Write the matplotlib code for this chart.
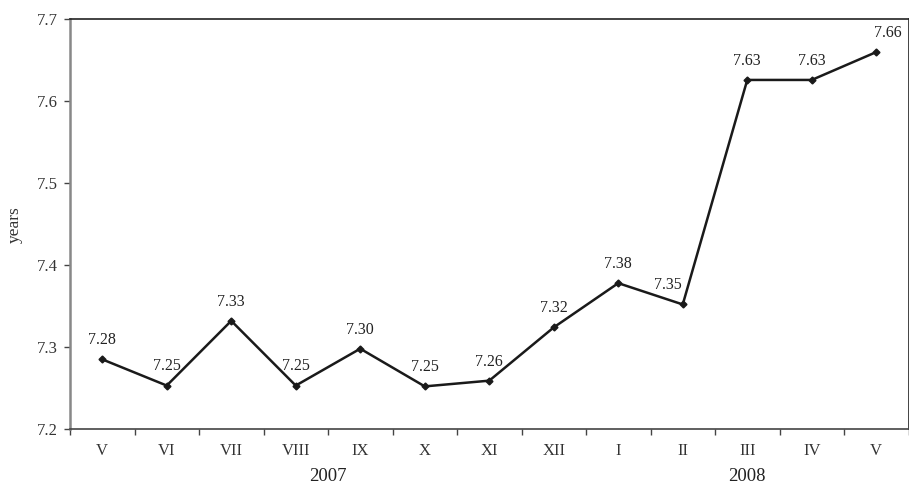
import numpy as np
import matplotlib.pyplot as plt

months = ['V', 'VI', 'VII', 'VIII', 'IX', 'X', 'XI', 'XII', 'I', 'II', 'III', 'IV', 'V']
values = [7.285, 7.253, 7.332, 7.253, 7.298, 7.252, 7.259, 7.324, 7.378, 7.352, 7.626, 7.626, 7.660]
labels = ['7.28', '7.25', '7.33', '7.25', '7.30', '7.25', '7.26', '7.32', '7.38', '7.35', '7.63', '7.63', '7.66']
years = ['2007', '2008']
year_groups = [range(0, 8), range(8, 13)]

plt.rcParams['font.family'] = ['Liberation Serif', 'DejaVu Serif']

fig = plt.figure(figsize=(9.09, 4.83), dpi=100)
ax = fig.add_axes([70 / 909, 54 / 483, 838.5 / 909, 409.7 / 483])

x = np.arange(len(months))
ax.plot(x, values, color='#1a1a1a', lw=1.8, marker='D', ms=3.5, mfc='#1a1a1a', mec='#1a1a1a')

# label nudges (points) so the text sits where the original had it
dx = [0, 0, 0, 0, 0, 0, 0, 0, 0, -11, 0, 0, 8]
for xi, v, t, d in zip(x, values, labels, dx):
    ax.annotate(t, (xi, v), xytext=(d, 8), textcoords='offset points',
                ha='center', va='bottom', fontsize=11.5, color='#222222')

ax.set_xlim(-0.5, len(months) - 0.5)
ax.set_ylim(7.2, 7.7)
ax.set_yticks(np.arange(7.2, 7.71, 0.1))
ax.set_yticklabels([f'{v:.1f}' for v in np.arange(7.2, 7.71, 0.1)], fontsize=12, color='#333333')
ax.set_ylabel('years', fontsize=12.5, color='#333333', labelpad=10)

ax.set_xticks(np.arange(-0.5, len(months), 1.0))
ax.set_xticklabels([])
ax.set_xticks(x, minor=True)
ax.set_xticklabels(months, minor=True, fontsize=12, color='#333333')
ax.tick_params(axis='x', which='minor', length=0, pad=10)
ax.tick_params(axis='x', which='major', length=4, width=1, color='#444444')
ax.tick_params(axis='y', length=4, width=1, color='#444444', pad=5)

for name, grp in zip(years, year_groups):
    ax.text(np.mean(list(grp)), -0.115, name, transform=ax.get_xaxis_transform(),
            ha='center', va='center', fontsize=13.5, color='#222222')

ax.spines['left'].set_color('#888888')
ax.spines['left'].set_linewidth(1.8)
ax.spines['bottom'].set_color('#444444')
ax.spines['top'].set_color('#222222')
ax.spines['right'].set_color('#222222')
for s in ['bottom', 'top', 'right']:
    ax.spines[s].set_linewidth(1.2)

fig.savefig('out.png', dpi=100)
